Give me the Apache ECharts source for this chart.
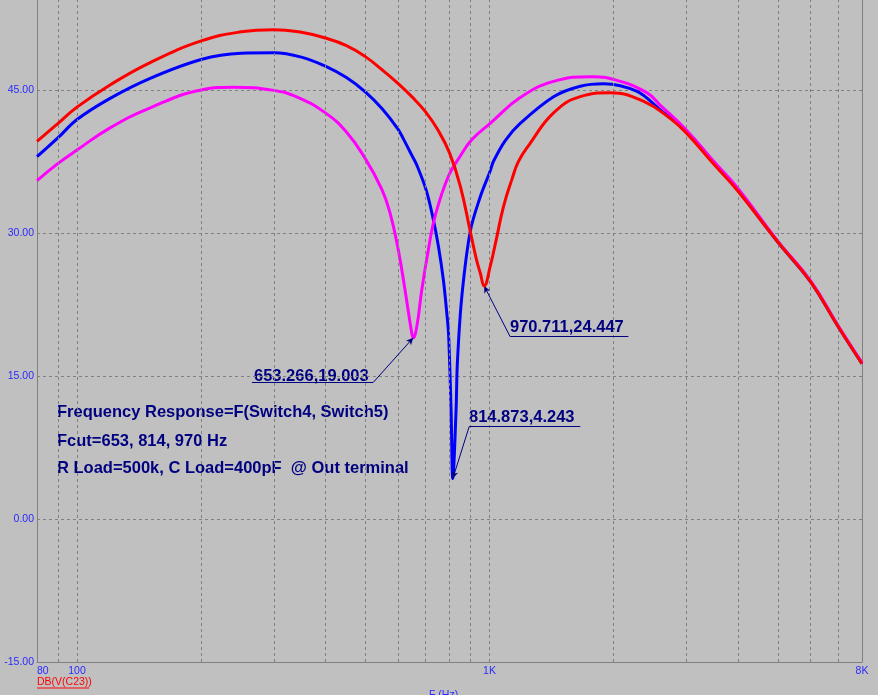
<!DOCTYPE html>
<html><head><meta charset="utf-8">
<script src="https://cdn.jsdelivr.net/npm/echarts@6/dist/echarts.min.js"></script>
<style>html,body{margin:0;padding:0;background:#c0c0c0;overflow:hidden}#c{width:878px;height:695px}</style>
</head><body><div id="c"></div>
<script>
// ---- data ----
const xLabelValues = [80, 100, 1000, 8000];
const xGridValues = [90, 100, 200, 300, 400, 500, 600, 700, 800, 900, 1000, 2000, 3000, 4000, 5000, 6000, 7000];
const yMin = -15, yMax = 54.44, yStep = 15;

const blueFreq = [80, 90, 100, 120, 150, 200, 250, 300, 350, 400, 450, 500, 550, 600, 618, 650, 667, 703, 731, 752, 773, 788, 796, 807, 814.873, 830, 836, 857, 898, 950, 1004, 1022, 1092, 1187, 1430, 1660, 1891, 2279, 2581, 3000, 3500, 4000, 5000, 6000, 7000, 8000];
const blueDb   = [38.0, 40.0, 41.9, 44.1, 46.2, 48.2, 48.85, 48.9, 48.45, 47.5, 46.3, 44.8, 43.0, 40.9, 39.9, 38.05, 37.1, 34.45, 31.4, 28.6, 25.1, 21.6, 19.3, 11.5, 4.243, 11.5, 16.4, 23.35, 30.14, 33.8, 36.5, 37.5, 39.7, 41.5, 44.3, 45.4, 45.66, 44.85, 43.0, 40.7, 37.4, 34.5, 29.05, 24.9, 20.2, 16.3];

const magFreq = [80, 90, 100, 120, 150, 200, 240, 300, 342, 400, 450, 500, 548, 574, 601, 624, 648, 653.266, 666.6, 685.4, 711, 738, 795, 849, 906.6, 1004, 1187, 1430, 1773, 2076, 2410, 2581, 3000, 3500, 4000, 5000, 6000, 7000, 8000];
const magDb   = [35.5, 37.3, 38.7, 41.0, 43.1, 45.0, 45.3, 44.96, 44.25, 42.6, 40.6, 37.8, 34.6, 32.1, 28.25, 24.05, 19.5, 19.003, 20.2, 24.05, 28.25, 31.75, 35.95, 38.05, 39.8, 41.5, 44.2, 45.9, 46.4, 45.9, 44.7, 43.5, 40.8, 37.5, 34.7, 29.15, 25.0, 20.3, 16.4];

const redFreq = [80, 90, 100, 120, 150, 200, 250, 300, 350, 400, 450, 500, 550, 600, 650, 700, 750, 800, 850, 900, 930, 950, 970.711, 1004, 1042, 1081, 1133, 1175, 1250, 1430, 1660, 1963, 2366, 2745, 3000, 3500, 4000, 5000, 6000, 7000, 8000];
const redDb   = [39.6, 41.5, 43.2, 45.5, 47.85, 50.15, 51.1, 51.33, 51.05, 50.45, 49.65, 48.5, 47.1, 45.7, 44.25, 42.7, 40.8, 38.4, 34.9, 30.0, 27.2, 25.8, 24.447, 26.5, 29.6, 32.75, 35.6, 37.48, 39.3, 42.6, 44.3, 44.7, 43.8, 42.0, 40.5, 37.2, 34.4, 29.05, 24.9, 20.2, 16.3];

// annotations
const annoText   = ['653.266,19.003', '970.711,24.447', '814.873,4.243'];
const annoStartF = [265.5, 1122.5, 892.7];
const annoEndF   = [522.0, 2171, 1660];
const annoLineDb = [14.30, 19.12, 9.68];
const annoTipF   = [522.0, 1122.5, 892.7];
const annoPtF    = [653.266, 970.711, 814.873];
const annoPtDb   = [19.003, 24.447, 4.243];

const infoLines = ['Frequency Response=F(Switch4, Switch5)', 'Fcut=653, 814, 970 Hz', 'R Load=500k, C Load=400pF  @ Out terminal'];

// ---- chart ----
const FONT = 'Liberation Sans, Arial, sans-serif';
const LABEL_BLUE = '#2a2aff';
const NAVY = '#000080';
const zip = (a, b) => a.map((v, i) => [v, b[i]]);

const annoLines = [];
for (let i = 0; i < annoText.length; i++) {
  annoLines.push([{coord: [annoStartF[i], annoLineDb[i]], symbol: 'none'}, {coord: [annoEndF[i], annoLineDb[i]], symbol: 'none'}]);
  annoLines.push([{coord: [annoTipF[i], annoLineDb[i]], symbol: 'none'}, {coord: [annoPtF[i], annoPtDb[i]], symbol: 'arrow', symbolSize: [5, 7]}]);
}

const chart = echarts.init(document.getElementById('c'), null, {renderer: 'canvas'});
chart.setOption({
  backgroundColor: '#c0c0c0',
  animation: false,
  grid: {left: 37, right: 16, top: 0, bottom: 33, containLabel: false},
  xAxis: {
    type: 'log', logBase: 10, min: 80, max: 8000,
    axisLine: {show: true, onZero: false, lineStyle: {color: '#808080', width: 1}},
    axisTick: {show: false},
    splitLine: {show: false},
    axisLabel: {
      customValues: xLabelValues, color: LABEL_BLUE, fontSize: 10.5, fontFamily: FONT, margin: 4,
      alignMinLabel: 'left',
      formatter: v => v >= 1000 ? (Math.round(v / 1000)) + 'K' : String(Math.round(v))
    }
  },
  yAxis: [{
    type: 'value', min: yMin, max: yMax, interval: yStep,
    axisLine: {show: true, onZero: false, lineStyle: {color: '#808080', width: 1}},
    axisTick: {show: false},
    splitLine: {show: true, showMaxLine: false, showMinLine: false, lineStyle: {color: '#808080', type: [3, 3], width: 1}},
    axisLabel: {color: LABEL_BLUE, fontSize: 10.5, fontFamily: FONT, margin: 3, showMaxLabel: false,
      formatter: v => v.toFixed(2)}
  }, {
    type: 'value', min: yMin, max: yMax, interval: yStep, position: 'right',
    axisLine: {show: true, onZero: false, lineStyle: {color: '#808080', width: 1}},
    axisTick: {show: false}, axisLabel: {show: false}, splitLine: {show: false}
  }],
  series: [
    {type: 'line', name: 'grid', data: [], z: 1, silent: true,
      markLine: {silent: true, symbol: 'none', animation: false, label: {show: false},
        lineStyle: {color: '#808080', type: [3, 3], width: 1},
        data: xGridValues.map(v => ({xAxis: v}))}},
    {type: 'line', name: 'blue', data: zip(blueFreq, blueDb), showSymbol: false, smooth: 0.35, z: 3,
      lineStyle: {color: '#0000ff', width: 3}, itemStyle: {color: '#0000ff'}},
    {type: 'line', name: 'magenta', data: zip(magFreq, magDb), showSymbol: false, smooth: 0.45, z: 4,
      lineStyle: {color: '#ff00ff', width: 3}, itemStyle: {color: '#ff00ff'}},
    {type: 'line', name: 'red', data: zip(redFreq, redDb), showSymbol: false, smooth: 0.45, z: 5,
      lineStyle: {color: '#ff0000', width: 3}, itemStyle: {color: '#ff0000'}},
    {type: 'line', name: 'anno', data: [], z: 6, silent: true,
      markLine: {silent: true, animation: false, label: {show: false},
        lineStyle: {color: NAVY, type: 'solid', width: 1}, itemStyle: {color: NAVY},
        data: annoLines}}
  ],
  graphic: [
    {type: 'text', left: 57, top: 404, style: {text: infoLines[0], font: 'bold 16.5px ' + FONT, fill: NAVY}},
    {type: 'text', left: 57, top: 433, style: {text: infoLines[1], font: 'bold 16.5px ' + FONT, fill: NAVY}},
    {type: 'text', left: 57, top: 460, style: {text: infoLines[2], font: 'bold 16.5px ' + FONT, fill: NAVY}},
    {type: 'text', left: 254, top: 368, style: {text: annoText[0], font: 'bold 16.5px ' + FONT, fill: NAVY}},
    {type: 'text', left: 510, top: 319, style: {text: annoText[1], font: 'bold 16.5px ' + FONT, fill: NAVY}},
    {type: 'text', left: 469, top: 409, style: {text: annoText[2], font: 'bold 16.5px ' + FONT, fill: NAVY}},
    {type: 'text', left: 37, top: 677, style: {text: 'DB(V(C23))', font: '10.5px ' + FONT, fill: '#ff0000'}},
    {type: 'line', shape: {x1: 37, y1: 688, x2: 89, y2: 688}, style: {stroke: '#ff0000', lineWidth: 1}},
    {type: 'text', left: 429, top: 690, style: {text: 'F (Hz)', font: '10.5px ' + FONT, fill: LABEL_BLUE}}
  ]
});
</script>
</body></html>
